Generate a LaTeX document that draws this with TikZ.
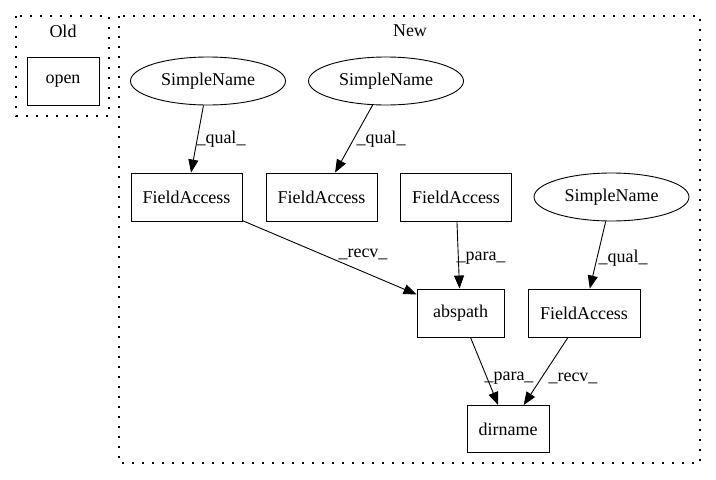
\documentclass[tikz,border=0pt]{standalone}
\usepackage{fontspec}
\setmainfont{Liberation Serif}
\usetikzlibrary{arrows.meta,shapes.geometric}

\begin{document}
\begin{tikzpicture}[x=1pt,y=-1pt,
    every node/.style={font=\fontsize{18}{20}\selectfont},
    box/.style={draw, line width=0.9pt, rectangle, minimum height=48pt, inner sep=0pt},
    oval/.style={draw, line width=0.9pt, ellipse, minimum width=155pt, minimum height=48pt, inner sep=0pt},
    cluster/.style={draw, line width=1.4pt, dash pattern=on 1.6pt off 8.4pt},
    edge/.style={-{Triangle[length=13pt,width=10pt]}, line width=0.9pt},
    lab/.style={inner sep=0pt}]
    \useasboundingbox (0,0) rectangle (716,480);
    % Draw the clusters
    \draw[cluster] (16,16) rectangle (109,116);
    \node (oldlab) at (63,31) {Old};
    \draw[cluster] (119,16) rectangle (700,463);
    \node (newlab) at (410,31) {New};
    % Old side
    \node[box, minimum width=72pt] (open) at (63,81) {open};
    % Top row of names
    \node[oval] (sn1) at (208,81) {SimpleName};
    \node[oval] (sn2) at (386,81) {SimpleName};
    % Field accesses
    \node[box, minimum width=111pt] (fa1) at (186.5,197) {FieldAccess};
    \node[box, minimum width=111pt] (fa2) at (321.5,197) {FieldAccess};
    \node[box, minimum width=111pt] (fa3) at (456,197) {FieldAccess};
    \node[oval] (sn3) at (611.5,197) {SimpleName};
    % Calls
    \node[box, minimum width=87pt] (abspath) at (460.5,313) {abspath};
    \node[box, minimum width=112pt] (fa4) at (584,313) {FieldAccess};
    \node[box, minimum width=82pt, minimum height=47pt] (dirname) at (508,429) {dirname};
    % Edges
    \draw[edge] (sn1) -- (fa1);
    \draw[edge] (sn2) -- (fa2);
    \draw[edge] (fa1) -- (abspath);
    \draw[edge] (fa3) -- (abspath);
    \draw[edge] (sn3) -- (fa4);
    \draw[edge] (abspath) -- (dirname);
    \draw[edge] (fa4) -- (dirname);
    % Edge labels
    \node[lab] (qual1) at (221,139) {\_qual\_};
    \node[lab] (qual2) at (381,139) {\_qual\_};
    \node[lab] (recv1) at (363,254) {\_recv\_};
    \node[lab] (para1) at (481,258) {\_para\_};
    \node[lab] (qual3) at (623,258) {\_qual\_};
    \node[lab] (para2) at (509,378) {\_para\_};
    \node[lab] (recv2) at (573,378) {\_recv\_};
\end{tikzpicture}
\end{document}
